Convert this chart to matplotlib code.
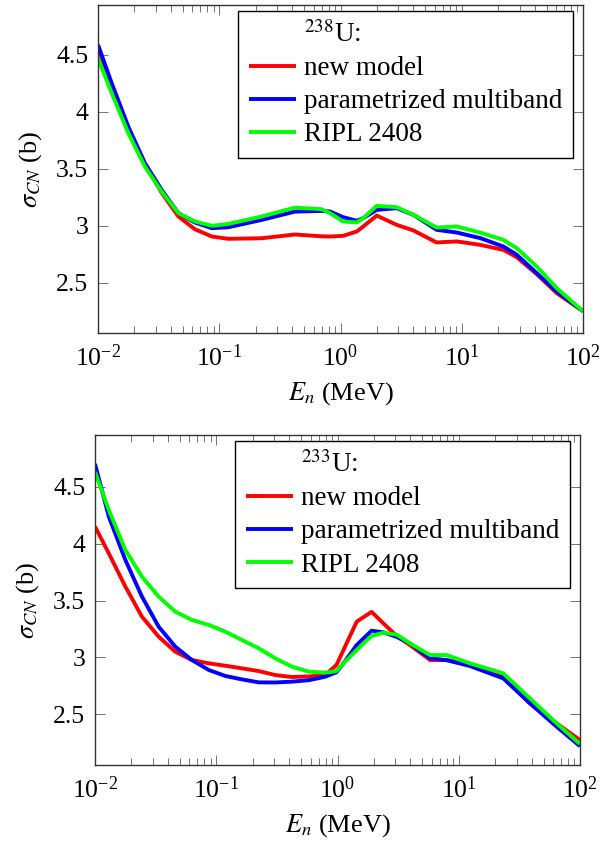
import matplotlib
matplotlib.use("Agg")
import matplotlib.pyplot as plt
from matplotlib.lines import Line2D
from matplotlib.ticker import LogLocator, NullFormatter, FixedLocator, FixedFormatter

plt.rcParams['font.family'] = 'serif'
plt.rcParams['font.serif'] = ['Liberation Serif', 'DejaVu Serif']
plt.rcParams['mathtext.fontset'] = 'stix'

# ---------------- data: 238U ----------------
E_238 = [0.01, 0.013, 0.0178, 0.0244, 0.0335, 0.046, 0.063, 0.087, 0.119, 0.224,
         0.42, 0.70, 0.82, 1.05, 1.36, 1.54, 1.99, 2.9, 4.0, 6.2, 9.1, 14.2,
         22.0, 28.4, 41.5, 60.7, 100.0]
new_238 = [4.57, 4.22, 3.85, 3.54, 3.29, 3.082, 2.970, 2.906, 2.886, 2.891,
           2.924, 2.908, 2.906, 2.912, 2.950, 2.994, 3.090, 3.009, 2.959, 2.854, 2.863, 2.833,
           2.789, 2.725, 2.576, 2.409, 2.25]
multi_238 = [4.59, 4.25, 3.87, 3.55, 3.316, 3.111, 3.029, 2.979, 2.988, 3.052,
             3.125, 3.131, 3.126, 3.076, 3.045, 3.067, 3.140, 3.155, 3.096, 2.965, 2.941, 2.892,
             2.819, 2.746, 2.585, 2.424, 2.25]
ripl_238 = [4.47, 4.163, 3.813, 3.52, 3.301, 3.111, 3.038, 3.000, 3.017, 3.082,
            3.160, 3.146, 3.111, 3.038, 3.030, 3.067, 3.175, 3.164, 3.096, 2.985, 2.994, 2.941,
            2.877, 2.804, 2.643, 2.453, 2.25]

# ---------------- data: 233U ----------------
E_233 = [0.01, 0.013, 0.0178, 0.0244, 0.0335, 0.046, 0.063, 0.087, 0.119, 0.163,
         0.224, 0.307, 0.42, 0.58, 0.79, 0.98, 1.12, 1.44, 1.91, 2.39, 3.08, 3.96,
         5.8, 7.9, 12.4, 23.3, 38.7, 64.3, 100.0]
new_233 = [4.15, 3.914, 3.622, 3.358, 3.182, 3.050, 2.977, 2.948, 2.927, 2.904,
           2.880, 2.845, 2.828, 2.833, 2.845, 2.933, 3.065, 3.314, 3.400, 3.299, 3.188, 3.109,
           2.977, 2.977, 2.933, 2.831, 2.596, 2.420, 2.274]
multi_233 = [4.70, 4.237, 3.856, 3.534, 3.270, 3.094, 2.977, 2.889, 2.837, 2.807,
             2.781, 2.780, 2.787, 2.800, 2.830, 2.870, 2.948, 3.109, 3.235, 3.220, 3.180, 3.123,
             2.992, 2.977, 2.924, 2.816, 2.596, 2.391, 2.220]
ripl_233 = [4.63, 4.295, 3.944, 3.709, 3.534, 3.402, 3.329, 3.285, 3.226, 3.153,
            3.080, 2.992, 2.919, 2.875, 2.866, 2.880, 2.948, 3.065, 3.190, 3.217, 3.200, 3.123,
            3.021, 3.021, 2.948, 2.860, 2.640, 2.420, 2.240]

series_labels = ['new model', 'parametrized multiband', 'RIPL 2408']
series_colors = ['#ff0000', '#0000ff', '#00ff00']
ytick_vals = [2.5, 3.0, 3.5, 4.0, 4.5]
ytick_labels = ['2.5', '3', '3.5', '4', '4.5']

fig = plt.figure(figsize=(6.12, 8.43), dpi=100)

panels = [
    dict(rect=[98/612, 1-333/843, 485/612, 328/843], E=E_238,
         ys=[new_238, multi_238, ripl_238], title=r'$^{238}$U:', ylim=(2.059, 4.939)),
    dict(rect=[95/612, 1-765/843, 485/612, 330/843], E=E_233,
         ys=[new_233, multi_233, ripl_233], title=r'$^{233}$U:', ylim=(2.055, 4.954)),
]

for p in panels:
    ax = fig.add_axes(p['rect'])
    for y, c, lab in zip(p['ys'], series_colors, series_labels):
        ax.plot(p['E'], y, color=c, lw=2.8, label=lab, solid_capstyle='butt')
    ax.set_xscale('log')
    ax.set_xlim(0.01, 100)
    ax.set_ylim(*p['ylim'])
    ax.xaxis.set_major_locator(LogLocator(base=10, numticks=10))
    ax.xaxis.set_minor_locator(LogLocator(base=10, subs=range(2, 10), numticks=20))
    ax.xaxis.set_minor_formatter(NullFormatter())
    ax.yaxis.set_major_locator(FixedLocator(ytick_vals))
    ax.yaxis.set_major_formatter(FixedFormatter(ytick_labels))
    ax.tick_params(which='both', direction='in', top=True, right=True,
                   color='0.45', width=0.7, labelsize=18.5)
    ax.tick_params(which='major', length=7.5)
    ax.tick_params(axis='x', which='major', pad=8)
    ax.tick_params(axis='y', which='major', pad=7)
    ax.tick_params(which='minor', length=4.8)
    for s in ax.spines.values():
        s.set_color('0.2')
        s.set_linewidth(1.0)
    ax.set_xlabel(r'$E_n$ (MeV)', fontsize=19, labelpad=7)
    ax.set_ylabel(r'$\sigma_{CN}$ (b)', fontsize=19, labelpad=9)

    handles, labels = ax.get_legend_handles_labels()
    dummy = Line2D([], [], color='none')
    leg = ax.legend([dummy] + handles, [p['title']] + labels,
                    loc='upper right', bbox_to_anchor=(0.979, 0.982),
                    borderaxespad=0, fontsize=19.5, frameon=True, fancybox=False,
                    edgecolor='black', framealpha=1, handlelength=1.75,
                    handletextpad=0.3, labelspacing=0.3, borderpad=0.38)
    leg.get_frame().set_linewidth(1.0)

fig.savefig('out.png', dpi=100)
